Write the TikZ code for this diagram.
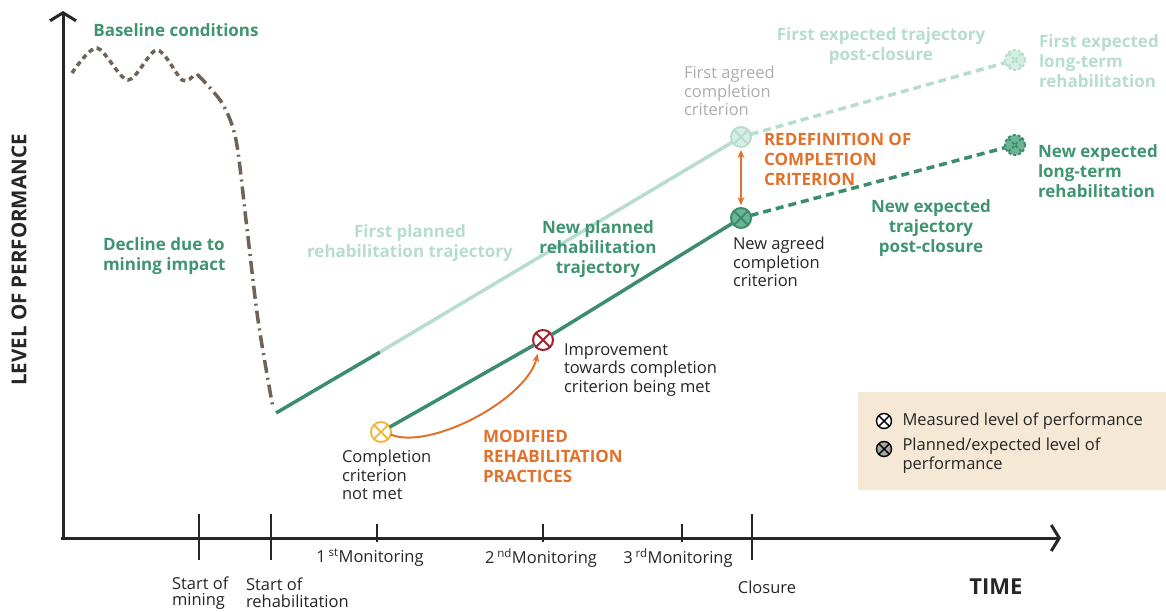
\documentclass[tikz,border=0pt]{standalone}
\usepackage{fontspec}
\setmainfont{Open Sans}
\usetikzlibrary{arrows.meta,calc}

\begin{document}
\begin{tikzpicture}
    [x=1pt, y=-1pt,
    %Option for nice arrows
    >={Straight Barb[length=8pt,width=26pt]}, %
    inner sep=0pt, outer sep=0pt,%
    axis/.style={line width=3pt,color=axisgray,->},
    tick/.style={line width=1.6pt,color=axisgray},
    trend/.style={line width=3.5pt,color=#1},
    future/.style={line width=3.5pt,color=#1,dash pattern=on 8pt off 5pt},
    marker/.style 2 args={circle,draw=#1,fill=#2,line width=2pt,minimum size=20pt,
        path picture={\draw[#1,line width=2pt]
            (path picture bounding box.south west) -- (path picture bounding box.north east)
            (path picture bounding box.north west) -- (path picture bounding box.south east);}},
    keymark/.style={circle,draw=black,fill=#1,line width=1.4pt,minimum size=15pt,
        path picture={\draw[black,line width=1.4pt]
            (path picture bounding box.south west) -- (path picture bounding box.north east)
            (path picture bounding box.north west) -- (path picture bounding box.south east);}},
    bold/.style={font=\fontsize{17}{20}\selectfont\bfseries,text=#1,align=left},
    plain/.style={font=\fontsize{16.5}{18.5}\selectfont,text=#1,align=left},
    ticklabel/.style={font=\fontsize{16.5}{16.5}\selectfont,text=axisgray,align=left},
    change/.style={line width=2pt,color=orange,-{Stealth[length=8pt,width=7pt]}}]


    % Colors

    \definecolor{axisgray}{HTML}{262626}
    \definecolor{green}{HTML}{3B8D6E}
    \definecolor{textgreen}{HTML}{3F9471}
    \definecolor{lightgreen}{HTML}{B7DDCC}
    \definecolor{palegreen}{HTML}{D6EEE3}
    \definecolor{midgreen}{HTML}{6DB497}
    \definecolor{orange}{HTML}{E2712B}
    \definecolor{brown}{HTML}{706255}
    \definecolor{graytext}{HTML}{ADADAD}
    \definecolor{darkred}{HTML}{A51F2F}
    \definecolor{yellow}{HTML}{F2B846}
    \definecolor{beige}{HTML}{F5E8D4}

    \useasboundingbox (0,0) rectangle (1166,612);

    % Frame
    \coordinate (O) at (63,538);
    \draw[axis] (63,540) -- (63,11) coordinate (ytop);
    \draw[axis] (61,538) -- (1061,538) coordinate (xend);
    \node[font=\fontsize{20.5}{20}\selectfont\bfseries,text=axisgray,rotate=90] (ylabel) at (19,260) {LEVEL OF PERFORMANCE};
    \node[font=\fontsize{22}{20}\selectfont\bfseries,text=axisgray] (xlabel) at (996,587) {TIME};

    % Ticks
    \foreach \x/\n in {199/mine, 271/rehab, 752/close}
        \draw[tick] (\x,514) -- (\x,560) coordinate (t\n);
    \foreach \x/\n in {377/mona, 543/monb, 682/monc}
        \draw[tick] (\x,524) -- (\x,542) coordinate (t\n);

    \node[ticklabel,anchor=west] (lmine) at (172,593) {Start of\\mining};
    \node[ticklabel,anchor=west] (lrehab) at (246,593) {Start of\\rehabilitation};
    \node[ticklabel] (lmona) at (370,558) {1\,\textsuperscript{st}Monitoring};
    \node[ticklabel] (lmonb) at (541,558) {2\,\textsuperscript{nd}Monitoring};
    \node[ticklabel] (lmonc) at (678,558) {3\,\textsuperscript{rd}Monitoring};
    \node[ticklabel] (lclose) at (767,587) {Closure};

    % Baseline and decline
    \draw[brown,line width=3.5pt,dash pattern=on 5pt off 4pt] plot[smooth]
        coordinates {(72,73) (97,48) (128,80) (157,50) (182,80) (193,76)};
    \coordinate (rehabstart) at (276,413);
    \draw[brown,line width=3.5pt,dash pattern=on 13pt off 5pt on 2pt off 5pt] plot[smooth]
        coordinates {(197,74) (222,103) (236,140) (246,220) (258,320) (273,408)};

    % Markers
    \node[marker={lightgreen}{palegreen}] (firstcrit) at (741,137) {};
    \node[marker={green}{midgreen}] (newcrit) at (741,218) {};
    \node[marker={yellow}{white}] (notmet) at (381,432) {};
    \node[marker={darkred}{white}] (improve) at (543,340) {};
    \node[marker={lightgreen}{palegreen},dash pattern=on 3pt off 2pt] (firstlong) at (1015,60) {};
    \node[marker={green}{midgreen},dash pattern=on 3pt off 2pt] (newlong) at (1015,145) {};
    \coordinate (split) at (380,352);

    % Trajectories
    \draw[trend=green] (rehabstart) -- (split);
    \draw[trend=lightgreen] (split) -- (firstcrit);
    \draw[trend=green] (notmet) -- (improve) -- (newcrit);
    \draw[future=lightgreen] (firstcrit) -- (firstlong);
    \draw[future=green] (newcrit) -- (newlong);

    % Changes
    \draw[change,{Stealth[length=8pt,width=7pt]}-{Stealth[length=8pt,width=7pt]},shorten <=3pt,shorten >=3pt]
        (firstcrit) -- (newcrit);
    \draw[change,shorten >=5pt] (notmet.-15) .. controls +(40,16) and +(-12,50) .. (improve.-115);

    % Labels
    \node[bold=textgreen] (baseline) at (176,30) {Baseline conditions};
    \node[bold=textgreen,anchor=west] (decline) at (103,256) {Decline due to\\mining impact};
    \node[bold=lightgreen,align=center] (firstplan) at (410,243) {First planned\\rehabilitation trajectory};
    \node[bold=textgreen,align=center] (newplan) at (598,249) {New planned\\rehabilitation\\trajectory};
    \node[plain=graytext,anchor=west] (lfirstcrit) at (684,91) {First agreed\\completion\\criterion};
    \node[bold=lightgreen,align=center] (firstpost) at (881,46) {First expected trajectory\\post-closure};
    \node[bold=lightgreen,anchor=west] (lfirstlong) at (1039,61) {First expected\\long-term\\rehabilitation};
    \node[bold=orange,anchor=west] (redef) at (764,159) {REDEFINITION OF\\COMPLETION\\CRITERION};
    \node[bold=textgreen,anchor=west] (lnewlong) at (1038,171) {New expected\\long-term\\rehabilitation};
    \node[bold=textgreen,align=center] (newpost) at (931,228) {New expected\\trajectory\\post-closure};
    \node[plain=axisgray,anchor=west] (lnewcrit) at (733,262) {New agreed\\completion\\criterion};
    \node[plain=axisgray,anchor=west] (limprove) at (564,370) {Improvement\\towards completion\\criterion being met};
    \node[plain=axisgray,anchor=west] (lnotmet) at (342,475) {Completion\\criterion\\not met};
    \node[bold=orange,anchor=west] (modified) at (483,456) {MODIFIED\\REHABILITATION\\PRACTICES};

    % Legend
    \fill[beige] (858,392) rectangle (1166,490);
    \node[keymark=white] (kmeas) at (884,421) {};
    \node[keymark=gray!70] (kplan) at (884,449) {};
    \node[plain=axisgray,anchor=west] (lmeas) at (kmeas.east) [xshift=11pt] {Measured level of performance};
    \node[plain=axisgray,anchor=north west] (lplan) at ($(kplan.east)+(11,-11)$) {Planned/expected level of\\performance};

\end{tikzpicture}
\end{document}
